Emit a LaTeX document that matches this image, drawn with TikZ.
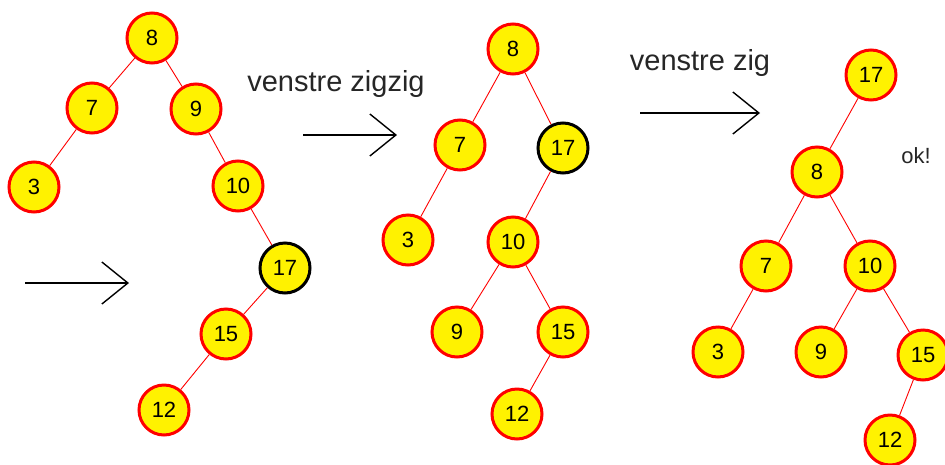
\documentclass[tikz,border=0pt]{standalone}
\usepackage{fontspec}
\setmainfont{Liberation Sans}
\usetikzlibrary{arrows.meta}

\begin{document}
\begin{tikzpicture}[x=1pt,y=-1pt]

		\tikzstyle{vertex}  = [circle, minimum size=50pt, draw=red, line width=3pt, inner sep=0pt, fill=yellow, font=\fontsize{22}{22}\selectfont]
		\tikzstyle{splay}   = [vertex, draw=black]
		\tikzstyle{edge}    = [red, line width=0.9pt]
		\tikzstyle{step arrow} = [black, line width=1.4pt, -{Straight Barb[length=26pt,width=42pt]}]
		\tikzstyle{caption} = [font=\fontsize{29}{29}\selectfont, text=black!85]
		\useasboundingbox (0,0) rectangle (945,464);
		% first tree
		\node [vertex](a8) at (152,38) {8};
		\node [vertex](a7) at (92,108) {7};
		\node [vertex](a9) at (196,109) {9};
		\node [vertex](a3) at (34,187) {3};
		\node [vertex](a10) at (238,186) {10};
		\node [splay](a17) at (285,268) {17};
		\node [vertex](a15) at (226,334) {15};
		\node [vertex](a12) at (164,410) {12};
		\draw [edge] (a8) -- (a7) -- (a3);
		\draw [edge] (a8) -- (a9) -- (a10) -- (a17) -- (a15) -- (a12);
		% second tree
		\node [vertex](b8) at (513,49) {8};
		\node [vertex](b7) at (460,145) {7};
		\node [splay](b17) at (563,148) {17};
		\node [vertex](b3) at (408,240) {3};
		\node [vertex](b10) at (513,242) {10};
		\node [vertex](b9) at (457,332) {9};
		\node [vertex](b15) at (563,332) {15};
		\node [vertex](b12) at (517,414) {12};
		\draw [edge] (b8) -- (b7) -- (b3);
		\draw [edge] (b8) -- (b17) -- (b10) -- (b9);
		\draw [edge] (b10) -- (b15) -- (b12);
		% third tree
		\node [vertex](c17) at (871,75) {17};
		\node [vertex](c8) at (817,172) {8};
		\node [vertex](c7) at (766,266) {7};
		\node [vertex](c10) at (870,266) {10};
		\node [vertex](c3) at (718,352) {3};
		\node [vertex](c9) at (821,352) {9};
		\node [vertex](c15) at (923,355) {15};
		\node [vertex](c12) at (890,440) {12};
		\draw [edge] (c17) -- (c8) -- (c7) -- (c3);
		\draw [edge] (c8) -- (c10) -- (c9);
		\draw [edge] (c10) -- (c15) -- (c12);
		% steps
		\coordinate (s1) at (25,283);
		\coordinate (e1) at (129,283);
		\coordinate (s2) at (303,135);
		\coordinate (e2) at (397,135);
		\coordinate (s3) at (640,113);
		\coordinate (e3) at (760,113);
		\draw [step arrow] (s1) -- (e1);
		\draw [step arrow] (s2) -- (e2);
		\draw [step arrow] (s3) -- (e3);
		\node [caption](zigzig) at (336,84) {venstre zigzig};
		\node [caption](zig) at (700,63) {venstre zig};
		\node [caption, font=\fontsize{22}{22}\selectfont](ok) at (916,156) {ok!};
\end{tikzpicture}
\end{document}
